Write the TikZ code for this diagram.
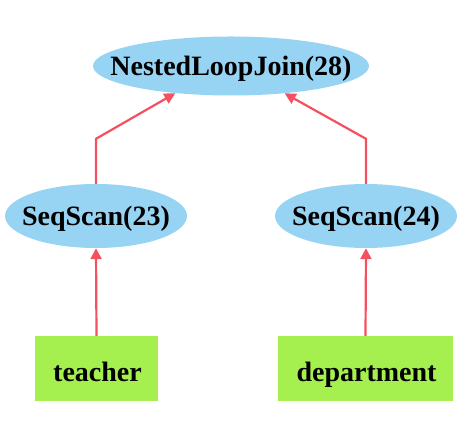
\documentclass[tikz,border=0pt]{standalone}
\usepackage{fontspec}
\setmainfont{Liberation Serif}
\usetikzlibrary{shapes.geometric,arrows.meta}
\definecolor{opblue}{HTML}{97D3F3}
\definecolor{tblgreen}{HTML}{A5F04F}
\definecolor{edgered}{HTML}{F5505F}
\newcommand{\zw}[1]{\makebox[0pt]{#1}}
\tikzset{
  opnode/.style={ellipse, fill=opblue, inner sep=0pt, text height=19pt, text depth=0pt, font=\fontsize{28}{32}\selectfont\bfseries},
  tblnode/.style={rectangle, fill=tblgreen, inner sep=0pt, minimum height=65pt, text height=26pt, text depth=0pt, font=\fontsize{28}{32}\selectfont\bfseries},
  edge/.style={draw=edgered, line width=2.2pt, -{Triangle[length=11pt,width=11pt]}}
}
\begin{document}
\begin{tikzpicture}[x=1pt,y=1pt]
\useasboundingbox (0,0) rectangle (476,436);
\node[opnode, minimum width=276pt, minimum height=59pt] (nlj) at (231,370) {\zw{NestedLoopJoin(28)}};
\node[opnode, minimum width=182pt, minimum height=64pt] (s23) at (96,220) {\zw{SeqScan(23)}};
\node[opnode, minimum width=182pt, minimum height=64pt] (s24) at (366,220) {\zw{SeqScan(24)}};
\node[tblnode, minimum width=123pt] (teacher) at (96.5,67.5) {\zw{\hspace{2pt}teacher}};
\node[tblnode, minimum width=175pt] (dept) at (365.5,67.5) {\zw{\hspace{2pt}department}};
\draw[edge] (teacher.north) -- (s23.south);
\draw[edge] (dept.north) -- (s24.south);
\draw[edge] (s23.north) -- ++(0,45) -- (nlj.206.6);
\draw[edge] (s24.north) -- ++(0,45) -- (nlj.333.4);
\end{tikzpicture}
\end{document}
